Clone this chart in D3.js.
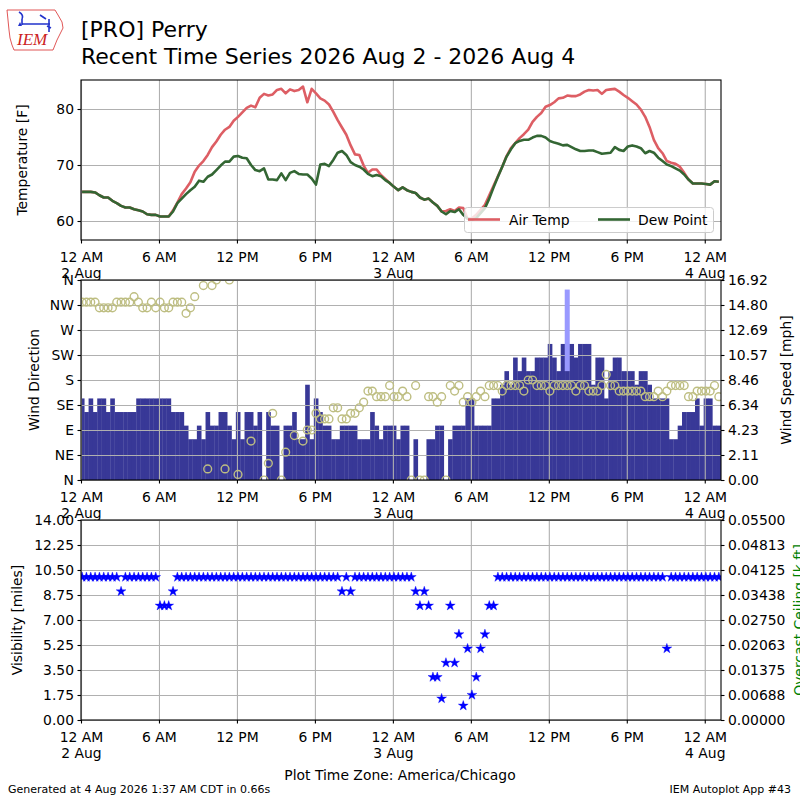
<!DOCTYPE html>
<html><head><meta charset="utf-8">
<script src="https://cdn.jsdelivr.net/npm/d3@7/dist/d3.min.js"></script>
<style>body{margin:0;background:#fff}</style>
</head><body>
<svg id="chart" width="800" height="800"></svg>
<script>
// ---------------- DATA ----------------
const stationTitle = "[PRO] Perry";
const subTitle = "Recent Time Series 2026 Aug 2 - 2026 Aug 4";
const obsStartUTC = Date.UTC(2026, 7, 2, 0, 5);   // first observation (local time treated as UTC)
const obsStepMinutes = 20;

const airTemp = [
 65.2,65.2,65.2,65.1,64.6,64.2,64.2,63.6,63.2,62.7,
 62.4,62.4,62.1,61.9,61.7,61.2,61.1,61.1,60.8,60.8,
 60.8,61.9,63.3,64.8,65.8,66.9,68.8,69.9,70.7,71.8,
 73.2,74.2,75.4,76.3,76.8,77.9,78.6,79.4,80.2,80.6,
 80.3,82.0,82.7,82.4,82.6,83.4,83.6,82.8,83.5,83.2,
 83.4,84.0,81.2,83.6,82.8,81.9,81.5,80.8,79.5,78.0,
 76.7,75.4,73.5,71.9,71.8,69.9,68.6,69.2,69.2,68.2,
 67.5,66.8,66.1,65.5,66.0,65.5,65.2,65.0,64.2,63.8,
 64.0,63.3,62.7,61.7,61.8,62.1,61.8,62.4,62.3,60.4,
 60.5,61.1,62.0,62.9,64.6,66.3,68.0,69.7,71.6,73.0,
 73.9,74.8,75.5,76.3,77.7,78.6,79.3,80.4,80.7,81.2,
 81.9,82.0,82.4,82.3,82.3,82.6,83.1,83.4,83.3,83.4,
 82.7,83.4,83.5,83.6,83.1,82.5,82.0,81.4,80.8,79.9,
 78.6,76.8,74.5,73.0,72.1,70.7,70.4,70.2,69.7,68.6,
 67.4,66.7,66.7,66.7,66.6,66.5,67.1,67.0
];
const dewPoint = [
 65.2,65.2,65.2,65.1,64.6,64.2,64.2,63.6,63.2,62.7,
 62.4,62.4,62.1,61.9,61.7,61.2,61.1,61.1,60.8,60.8,
 60.8,61.7,63.2,64.0,64.8,65.5,66.1,67.2,67.0,67.9,
 68.3,69.1,69.9,70.6,70.6,71.5,71.6,71.3,71.2,70.0,
 69.1,68.9,69.4,67.4,67.4,67.3,68.5,67.3,68.6,68.9,
 68.4,68.3,68.3,67.6,66.5,70.1,70.2,69.8,70.9,72.2,
 72.5,71.8,70.5,70.0,69.7,69.2,68.4,68.0,68.2,68.0,
 67.3,66.8,66.1,65.5,66.0,65.5,65.2,65.0,64.2,63.8,
 64.0,63.3,62.7,61.7,61.2,61.8,61.6,62.1,61.1,60.4,
 60.2,60.5,61.4,62.3,64.0,66.0,67.9,69.7,71.5,72.8,
 73.9,74.3,74.5,74.5,74.9,75.2,75.2,74.9,74.3,74.0,
 73.8,73.5,73.6,73.2,72.8,72.5,72.5,72.6,72.6,72.3,
 72.0,72.1,72.2,73.2,72.7,72.5,73.3,73.5,73.3,73.0,
 72.1,72.5,72.2,71.3,70.7,70.1,69.8,69.4,69.0,68.3,
 67.4,66.7,66.7,66.7,66.6,66.5,67.1,67.0
];
const windSpeedMph = [
 6.90,5.75,6.90,5.75,6.90,6.90,5.75,6.90,5.75,5.75,
 5.75,5.75,5.75,6.90,6.90,6.90,6.90,6.90,6.90,6.90,
 6.90,5.75,5.75,5.75,4.60,3.45,3.45,4.60,3.45,5.75,
 4.60,4.60,5.75,5.75,4.60,3.45,5.75,3.45,5.75,5.75,
 4.60,5.75,0,5.75,4.60,4.60,0,4.60,4.60,5.75,
 3.45,3.45,8.06,3.45,6.90,5.75,4.60,4.60,3.45,3.45,
 4.60,4.60,4.60,4.60,3.45,3.45,3.45,5.75,4.60,3.45,
 4.60,4.60,4.60,3.45,4.60,4.60,0,3.45,0,0,
 3.45,3.45,4.60,4.60,0,3.45,4.60,4.60,4.60,6.90,
 6.90,4.60,4.60,4.60,4.60,6.90,6.90,8.06,9.21,8.06,
 10.36,9.21,10.36,9.21,9.21,10.36,10.36,10.36,11.51,10.36,
 9.21,11.51,11.51,11.51,10.36,11.51,11.51,11.51,8.06,10.36,
 10.36,6.90,9.21,10.36,10.36,9.21,9.21,9.21,8.06,9.21,
 9.21,8.06,6.90,6.90,6.90,6.90,3.45,3.45,4.60,5.75,
 5.75,5.75,6.90,4.60,6.90,6.90,4.60,4.60
];
const windDir = [
 320,320,320,320,310,310,310,310,320,320,
 320,320,330,320,310,310,320,310,320,310,
 310,320,320,320,300,310,330,null,350,20,
 350,360,null,20,360,null,10,null,null,70,
 null,null,0,30,120,null,0,50,null,80,
 null,70,90,90,120,110,110,110,130,130,
 110,110,120,120,130,140,160,160,150,150,
 150,170,150,150,160,150,0,170,0,0,
 150,150,140,150,0,170,160,170,140,150,
 140,150,160,150,170,170,170,160,170,170,
 170,170,160,180,180,170,170,170,160,170,
 170,170,170,170,160,170,170,160,160,160,
 170,190,170,170,160,160,160,160,160,160,
 150,150,150,160,150,160,170,170,170,170,
 150,150,160,160,160,160,170,150
];
const visibility = [
 10,10,10,10,10,10,10,10,10,9,
 10,10,10,10,10,10,10,10,8,8,
 8,9,10,10,10,10,10,10,10,10,
 10,10,10,10,10,10,10,10,10,10,
 10,10,10,10,10,10,10,10,10,10,
 10,10,10,10,10,10,10,10,10,10,
 9,10,9,10,10,10,10,10,10,10,
 10,10,10,10,10,10,10,9,8,9,
 8,3,3,1.5,4,8,4,6,1,5,
 1.75,3,5,6,8,8,10,10,10,10,
 10,10,10,10,10,10,10,10,10,10,
 10,10,10,10,10,10,10,10,10,10,
 10,10,10,10,10,10,10,10,10,10,
 10,10,10,10,10,5,10,10,10,10,
 10,10,10,10,10,10,10,10
];
const gustTimes = ["2026-08-03T13:25"];
const gustMph = [16.11];
const gustBaseMph = [9.21];

const xTickHours = [0,6,12,18,24,30,36,42,48];
const xTickLabels = ["12 AM\n2 Aug","6 AM","12 PM","6 PM","12 AM\n3 Aug","6 AM","12 PM","6 PM","12 AM\n4 Aug"];
const tempTicks = [60,70,80];
const dirTicks = [0,45,90,135,180,225,270,315,360];
const dirTickLabels = ["N","NE","E","SE","S","SW","W","NW","N"];
const speedTickLabels = ["0.00","2.11","4.23","6.34","8.46","10.57","12.69","14.80","16.92"];
const visTickLabels = ["0.00","1.75","3.50","5.25","7.00","8.75","10.50","12.25","14.00"];
const ceilTickLabels = ["0.00000","0.00688","0.01375","0.02063","0.02750","0.03438","0.04125","0.04813","0.05500"];

// ---------------- DRAW ----------------
const FONT = "DejaVu Sans";
const FS = 13.9;
const svg = d3.select("#chart").attr("font-family", FONT);
const L = 81, R = 721;
const P = {temp:[80,240], wind:[280,480], vis:[520,720]};
const C = {temp:"#dd5e64", dew:"#336633", bar:"#383897", gust:"#9999ff", dir:"#bebe82", star:"#0000ff", grid:"#b0b0b0"};

const t0 = Date.UTC(2026,7,2,0,0);
const x = d3.scaleUtc().domain([new Date(t0), new Date(Date.UTC(2026,7,4,1,15))]).range([L, R]);
const times = airTemp.map((_, i) => new Date(obsStartUTC + i*obsStepMinutes*60000));
const xTickDates = xTickHours.map(h => new Date(t0 + h*3600000));

const yT = d3.scaleLinear().domain([60 - 19/5.6, 60 + 141/5.6]).range([240, 80]);
const yDir = d3.scaleLinear().domain([0,360]).range([480,280]);
const ySpd = d3.scaleLinear().domain([0,16.92]).range([480,280]);
const yVis = d3.scaleLinear().domain([0,14]).range([720,520]);
const yCeil = d3.scaleLinear().domain([0,0.055]).range([720,520]);

const defs = svg.append("defs");
Object.entries(P).forEach(([k,[t,b]]) => {
  defs.append("clipPath").attr("id","clip-"+k).append("rect").attr("x",L).attr("y",t).attr("width",R-L).attr("height",b-t);
});

// Logo
const logo = svg.append("g");
logo.append("path").attr("d","M7,10 L55,10 L58,15 L62,22 L63,28 L60,34 L57,40 L55,45 L53,50 L14,50 L12,45 L10,38 L9,30 L8,20 Z")
  .attr("fill","none").attr("stroke","#dd4444").attr("stroke-width",0.9);
logo.append("path").attr("d","M19,12 Q24,15 22,19 M22,19 L22,25 M22,24 L50,24 M40,15 L46,19 M49,19 L49,32 M47,26 L51,28")
  .attr("fill","none").attr("stroke","#2233cc").attr("stroke-width",1.6);
logo.append("path").attr("d","M18,26 L20,22 L22,26 Z").attr("fill","#2233cc");
logo.append("text").attr("x",17).attr("y",45).attr("font-family","Liberation Serif").attr("font-style","italic")
  .attr("font-size",17).attr("fill","#cc2222").text("IEM");

// Titles
svg.append("text").attr("x",81).attr("y",37).attr("font-size",22).text(stationTitle);
svg.append("text").attr("x",81).attr("y",64).attr("font-size",22).text(subTitle);

function grid(panel, yScale, yVals) {
  const [t,b] = P[panel];
  const g = svg.append("g");
  g.append("g").attr("transform",`translate(0,${b})`)
    .call(d3.axisBottom(x).tickValues(xTickDates).tickSize(-(b-t)).tickFormat(""))
    .call(s => s.select(".domain").remove())
    .selectAll("line").attr("stroke",C.grid).attr("stroke-width",1.1);
  g.append("g").attr("transform",`translate(${L},0)`)
    .call(d3.axisLeft(yScale).tickValues(yVals).tickSize(-(R-L)).tickFormat(""))
    .call(s => s.select(".domain").remove())
    .selectAll("line").attr("stroke",C.grid).attr("stroke-width",1.1);
}

function frame(panel) {
  const [t,b] = P[panel];
  svg.append("rect").attr("x",L).attr("y",t).attr("width",R-L).attr("height",b-t)
    .attr("fill","none").attr("stroke","#000").attr("stroke-width",1.1);
}

function xAxis(panel) {
  const b = P[panel][1];
  const g = svg.append("g").attr("transform",`translate(0,${b})`)
    .call(d3.axisBottom(x).tickValues(xTickDates).tickSize(3.5).tickSizeOuter(0).tickFormat((d,i)=>xTickLabels[i]));
  g.attr("font-family",FONT).attr("font-size",FS);
  g.select(".domain").remove();
  g.selectAll(".tick line").attr("stroke","#000").attr("stroke-width",1.1);
  g.selectAll(".tick text").each(function(d,i){
    const tx = d3.select(this);
    const lines = xTickLabels[i].split("\n");
    tx.text(null).attr("y",null).attr("dy",null).attr("fill","#000");
    lines.forEach((ln,j)=> tx.append("tspan").attr("x",0).attr("y",21.7 + j*16.5).text(ln));
  });
}

function yAxisLeft(scale, vals, labels) {
  const g = svg.append("g").attr("transform",`translate(${L},0)`)
    .call(d3.axisLeft(scale).tickValues(vals).tickSize(3.5).tickPadding(3.5).tickSizeOuter(0)
      .tickFormat((d,i)=> labels ? labels[i] : d));
  g.attr("font-family",FONT).attr("font-size",FS);
  g.select(".domain").remove();
  g.selectAll(".tick line").attr("stroke","#000").attr("stroke-width",1.1);
  g.selectAll(".tick text").attr("fill","#000");
}
function yAxisRight(scale, vals, labels) {
  const g = svg.append("g").attr("transform",`translate(${R},0)`)
    .call(d3.axisRight(scale).tickValues(vals).tickSize(3.5).tickPadding(3.5).tickSizeOuter(0)
      .tickFormat((d,i)=> labels[i]));
  g.attr("font-family",FONT).attr("font-size",FS);
  g.select(".domain").remove();
  g.selectAll(".tick line").attr("stroke","#000").attr("stroke-width",1.1);
  g.selectAll(".tick text").attr("fill","#000");
}
function vLabel(txt, xPos, yc, color) {
  svg.append("text").attr("transform",`translate(${xPos},${yc}) rotate(-90)`)
    .attr("text-anchor","middle").attr("font-size",FS).attr("fill",color||"#000").text(txt);
}

// ---- Panel 1: temperature ----
grid("temp", yT, tempTicks);
const gT = svg.append("g").attr("clip-path","url(#clip-temp)");
const lineT = d3.line().x((d,i)=>x(times[i])).y(d=>yT(d));
gT.append("path").datum(airTemp).attr("d",lineT).attr("fill","none").attr("stroke",C.temp).attr("stroke-width",2.6).attr("stroke-linejoin","round");
gT.append("path").datum(dewPoint).attr("d",lineT).attr("fill","none").attr("stroke",C.dew).attr("stroke-width",2.6).attr("stroke-linejoin","round");
// legend
const lg = svg.append("g");
lg.append("rect").attr("x",464.5).attr("y",207.5).attr("width",249).attr("height",25).attr("rx",3)
  .attr("fill","#fff").attr("fill-opacity",0.8).attr("stroke","#cccccc").attr("stroke-width",1);
lg.append("line").attr("x1",468).attr("x2",500).attr("y1",219.5).attr("y2",219.5).attr("stroke",C.temp).attr("stroke-width",2.6);
lg.append("text").attr("x",509).attr("y",224.5).attr("font-size",FS).text("Air Temp");
lg.append("line").attr("x1",598).attr("x2",630).attr("y1",219.5).attr("y2",219.5).attr("stroke",C.dew).attr("stroke-width",2.6);
lg.append("text").attr("x",638).attr("y",224.5).attr("font-size",FS).text("Dew Point");
frame("temp");
xAxis("temp");
yAxisLeft(yT, tempTicks, null);
vLabel("Temperature [F]", 27, 160);

// ---- Panel 2: wind ----
const barW = x(new Date(t0 + obsStepMinutes*60000)) - x(new Date(t0));
const gW = svg.append("g").attr("clip-path","url(#clip-wind)");
gW.selectAll("rect.spd").data(windSpeedMph).join("rect").attr("class","spd")
  .attr("x",(d,i)=>x(times[i]) - barW/2).attr("width",barW + 0.3)
  .attr("y",d=>ySpd(d)).attr("height",d=>ySpd(0)-ySpd(d)).attr("fill",C.bar);
grid("wind", yDir, dirTicks);
const gW2 = svg.append("g").attr("clip-path","url(#clip-wind)");
gW2.selectAll("rect.gust").data(gustMph).join("rect").attr("class","gust")
  .attr("x",(d,i)=>x(new Date(gustTimes[i]+":00Z")) - 2.5).attr("width",5)
  .attr("y",d=>ySpd(d)).attr("height",(d,i)=>ySpd(gustBaseMph[i]) - ySpd(d)).attr("fill",C.gust);
gW2.selectAll("circle").data(windDir.map((d,i)=>({d,i})).filter(o=>o.d!==null)).join("circle")
  .attr("cx",o=>x(times[o.i])).attr("cy",o=>yDir(o.d)).attr("r",3.9)
  .attr("fill","none").attr("stroke",C.dir).attr("stroke-width",1.4);
frame("wind");
xAxis("wind");
yAxisLeft(yDir, dirTicks, dirTickLabels);
yAxisRight(ySpd, d3.range(9).map(i=>i*16.92/8), speedTickLabels);
vLabel("Wind Direction", 39, 380);
vLabel("Wind Speed [mph]", 791, 380);

// ---- Panel 3: visibility ----
const visTicks = d3.range(9).map(i=>i*1.75);
grid("vis", yVis, visTicks);
const gV = svg.append("g").attr("clip-path","url(#clip-vis)");
const star = d3.symbol().type(d3.symbolStar).size(30);
gV.selectAll("path.star").data(visibility).join("path").attr("class","star")
  .attr("d",star).attr("transform",(d,i)=>`translate(${x(times[i])},${yVis(d)})`)
  .attr("fill",C.star).attr("stroke",C.star).attr("stroke-width",0.4);
frame("vis");
xAxis("vis");
yAxisLeft(yVis, visTicks, visTickLabels);
yAxisRight(yCeil, d3.range(9).map(i=>i*0.055/8), ceilTickLabels);
vLabel("Visibility [miles]", 22, 620);
vLabel("Overcast Ceiling [k ft]", 804, 620, "#008000");

// footer
svg.append("text").attr("x",400).attr("y",780).attr("text-anchor","middle").attr("font-size",FS).text("Plot Time Zone: America/Chicago");
svg.append("text").attr("x",8).attr("y",793).attr("font-size",11).text("Generated at 4 Aug 2026 1:37 AM CDT in 0.66s");
svg.append("text").attr("x",791).attr("y",793).attr("text-anchor","end").attr("font-size",11).text("IEM Autoplot App #43");
</script>
</body></html>
